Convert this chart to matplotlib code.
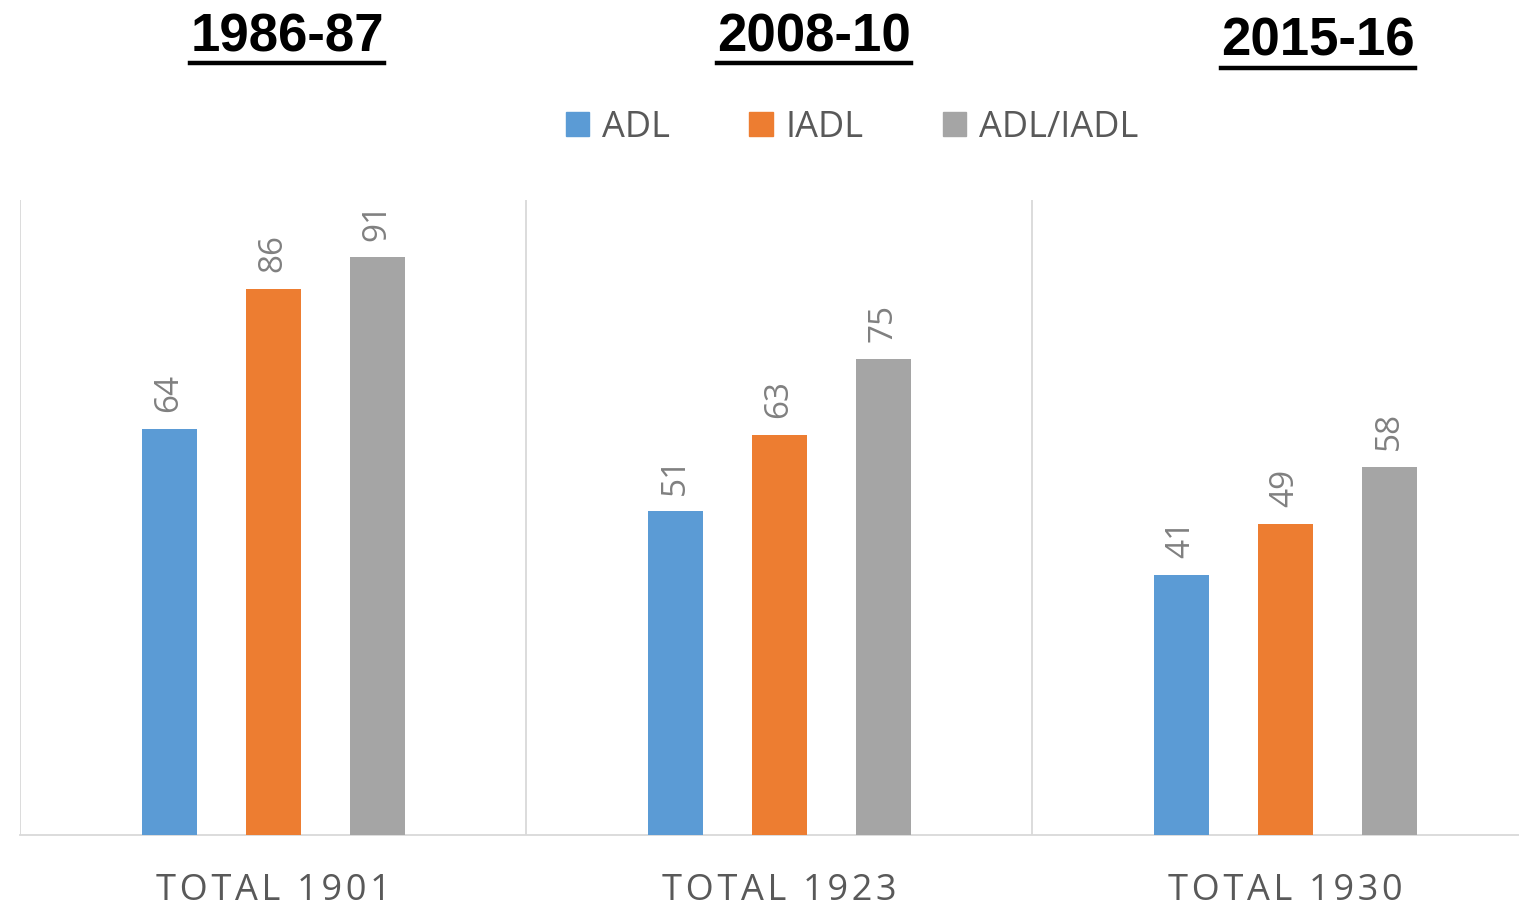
import matplotlib.pyplot as plt
from matplotlib.lines import Line2D
from matplotlib.patches import Patch

groups = ['TOTAL 1901', 'TOTAL 1923', 'TOTAL 1930']
periods = ['1986-87', '2008-10', '2015-16']
series = ['ADL', 'IADL', 'ADL/IADL']
adl = [64, 51, 41]
iadl = [86, 63, 49]
adl_iadl = [91, 75, 58]
colors = ['#5b9bd5', '#ed7d31', '#a5a5a5']

W, H = 1519, 910
fig = plt.figure(figsize=(W / 100, H / 100), dpi=100)
ax = fig.add_axes([20 / W, 75 / H, 1518 / W, 635 / H])

width = 55 / 506
step = 104 / 506
for i, (vals, c) in enumerate(zip([adl, iadl, adl_iadl], colors)):
    xs = [g + (i - 1) * step for g in range(len(groups))]
    ax.bar(xs, vals, width=width, color=c, zorder=3)
    for x, v in zip(xs, vals):
        ax.text(x, v + 2.6, str(v), rotation=90, ha='center', va='bottom',
                fontsize=24, color='#808080', family='Open Sans')

ax.set_xlim(-0.5, 2.5)
ax.set_ylim(0, 100)
for xv in [-0.5, 0.5, 1.5]:
    ax.axvline(xv, color='#d9d9d9', lw=1.3, zorder=1)
for s in ['top', 'right', 'left']:
    ax.spines[s].set_visible(False)
ax.spines['bottom'].set_color('#d9d9d9')
ax.spines['bottom'].set_linewidth(1.3)
ax.set_yticks([])
ax.set_xticks(range(len(groups)))
# slight letter spacing like the original
spaced = ['\u200a'.join(g) for g in groups]
ax.set_xticklabels(spaced, fontsize=26, color='#595959', family=['Open Sans', 'DejaVu Sans'])
ax.tick_params(axis='x', length=0, pad=27)

handles = [Patch(color=c) for c in colors]
fig.legend(handles, series, loc='center', bbox_to_anchor=(852 / W, 1 - 128 / H),
           ncol=3, frameon=False, handlelength=0.65, handleheight=0.65,
           handletextpad=0.35, columnspacing=2.2,
           prop={'family': 'Open Sans', 'size': 26}, labelcolor='#595959')

# period titles with underline
title_pos = [(287, 37, 63), (814, 37, 63), (1318, 42, 68)]
fig.canvas.draw()
renderer = fig.canvas.get_renderer()
for p, (cx, cy, uy) in zip(periods, title_pos):
    t = fig.text(cx / W, 1 - cy / H, p, ha='center', va='center', fontsize=38,
                 fontweight='bold', family='Liberation Sans')
    bb = t.get_window_extent(renderer)
    fig.add_artist(Line2D([bb.x0 / W, bb.x1 / W], [1 - uy / H, 1 - uy / H],
                          color='black', lw=3.2, transform=fig.transFigure))

fig.savefig('out.png', dpi=100)
